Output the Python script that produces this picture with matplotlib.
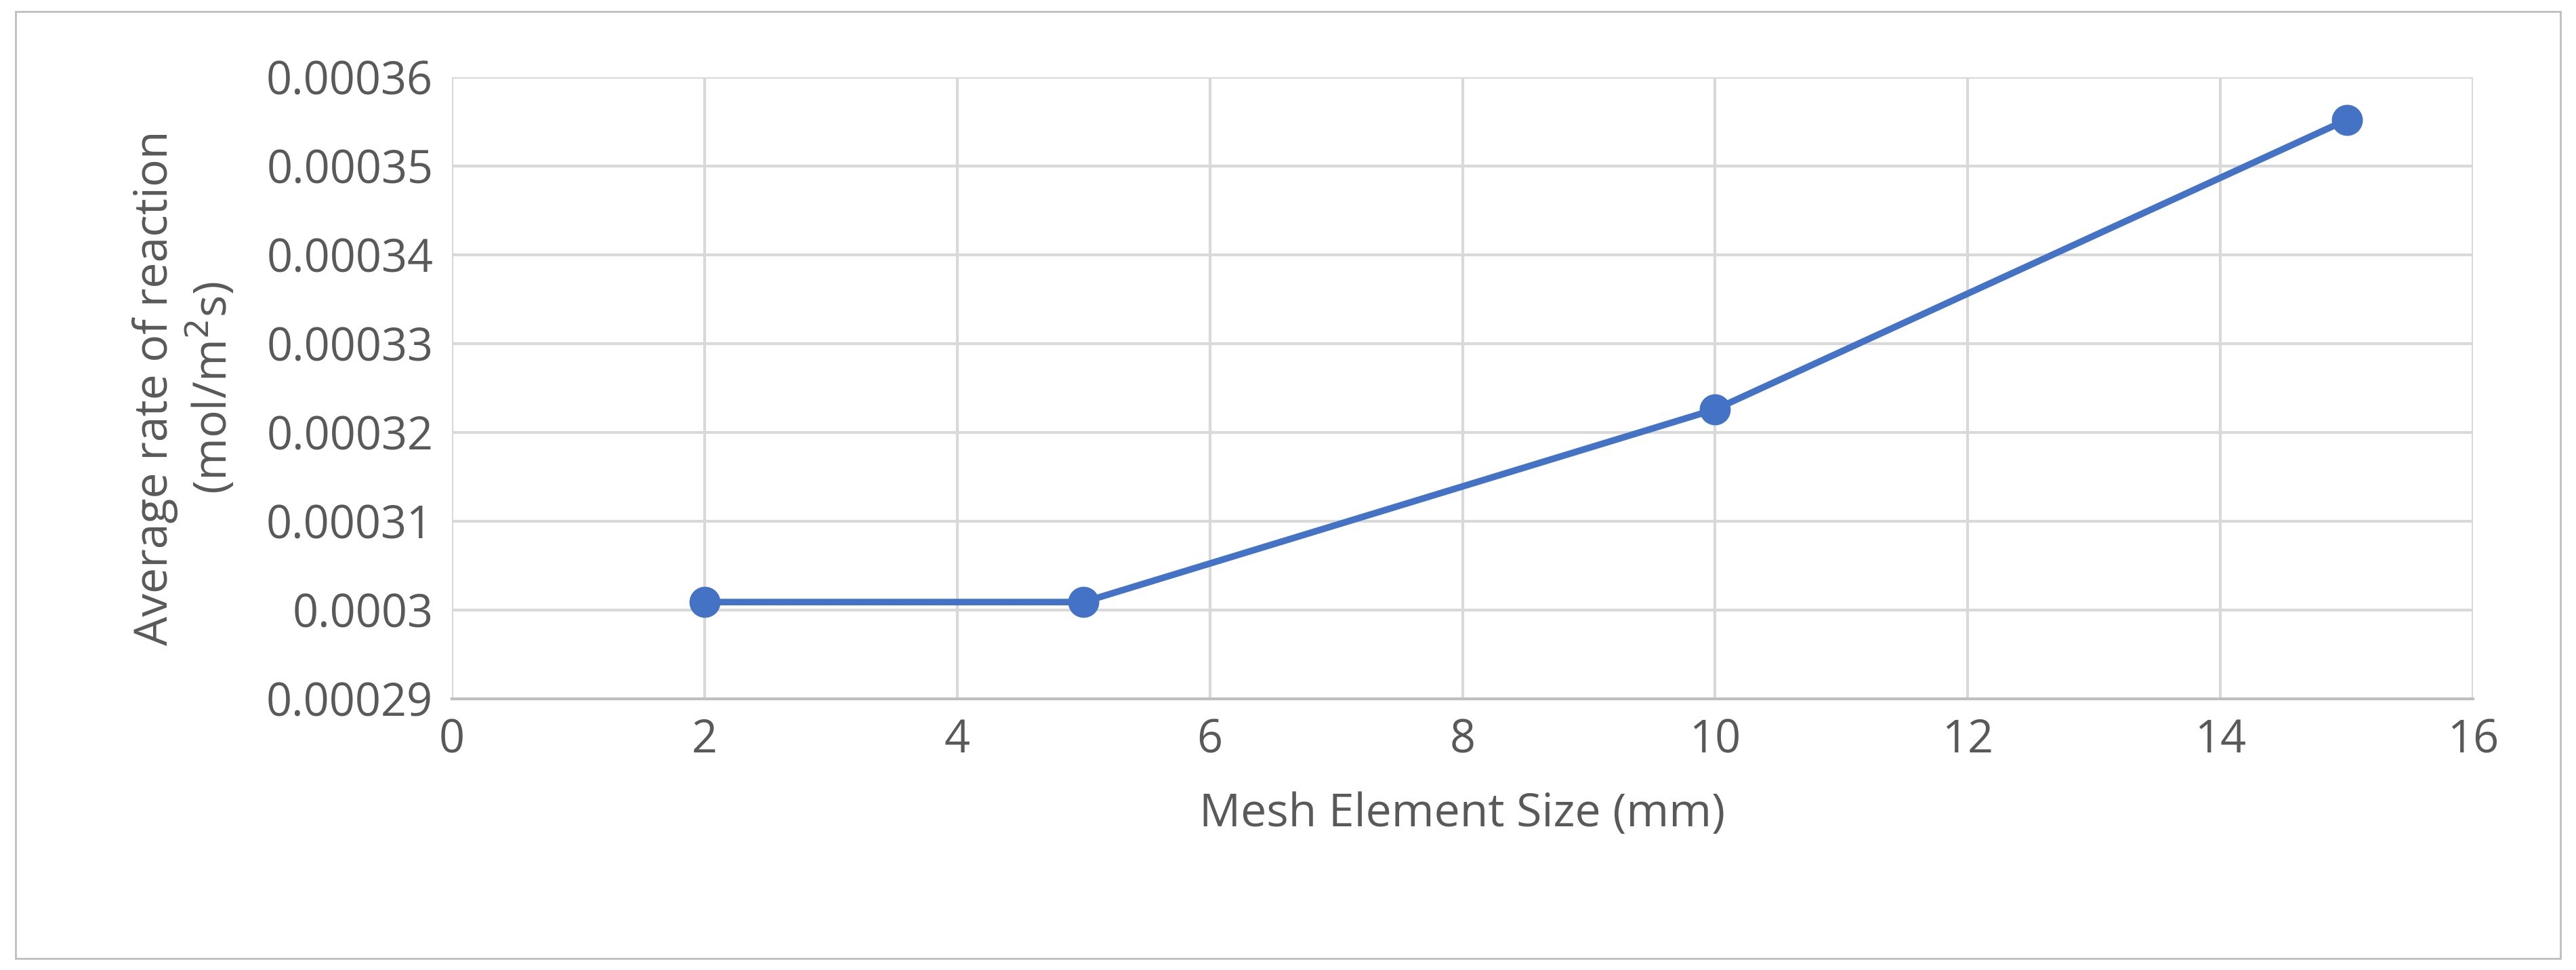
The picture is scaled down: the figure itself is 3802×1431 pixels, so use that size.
import matplotlib
matplotlib.use("Agg")
import matplotlib.pyplot as plt
from matplotlib.patches import Rectangle

mesh_size = [2, 5, 10, 15]
avg_rate = [0.0003009, 0.0003009, 0.0003226, 0.0003552]
x_ticks = [0, 2, 4, 6, 8, 10, 12, 14, 16]
y_ticks = [0.00029, 0.0003, 0.00031, 0.00032, 0.00033, 0.00034, 0.00035, 0.00036]
y_labels = ["0.00029", "0.0003", "0.00031", "0.00032", "0.00033", "0.00034", "0.00035", "0.00036"]

plt.rcParams['font.family'] = ['Open Sans', 'DejaVu Sans']
fig = plt.figure(figsize=(38.02, 14.31), dpi=100)
fig.patches.append(Rectangle((0.006, 0.012), 0.988, 0.976, transform=fig.transFigure,
                             fill=False, edgecolor='#BFBFBF', lw=2))
ax = fig.add_axes([667/3802, 1 - 1031/1431, (3650-667)/3802, (1031-114)/1431])
ax.plot(mesh_size, avg_rate, color='#4472C4', lw=7, marker='o', ms=32, zorder=3)
ax.set_xlim(0, 16)
ax.set_ylim(0.00029, 0.00036)
ax.set_xticks(x_ticks)
ax.set_yticks(y_ticks)
ax.set_yticklabels(y_labels)
ax.grid(True, color='#D9D9D9', lw=3)
for s in ['top', 'right', 'left']:
    ax.spines[s].set_visible(False)
ax.spines['bottom'].set_color('#BFBFBF')
ax.spines['bottom'].set_linewidth(3)
ax.tick_params(length=0, labelsize=48, labelcolor='#595959', pad=20)
ax.set_xlabel('Mesh Element Size (mm)', fontsize=49, color='#595959', labelpad=30)
ax.set_ylabel('Average rate of reaction\n(mol/m$^2$s)', fontsize=49, color='#595959', labelpad=30)
fig.savefig('out.png', dpi=100)
